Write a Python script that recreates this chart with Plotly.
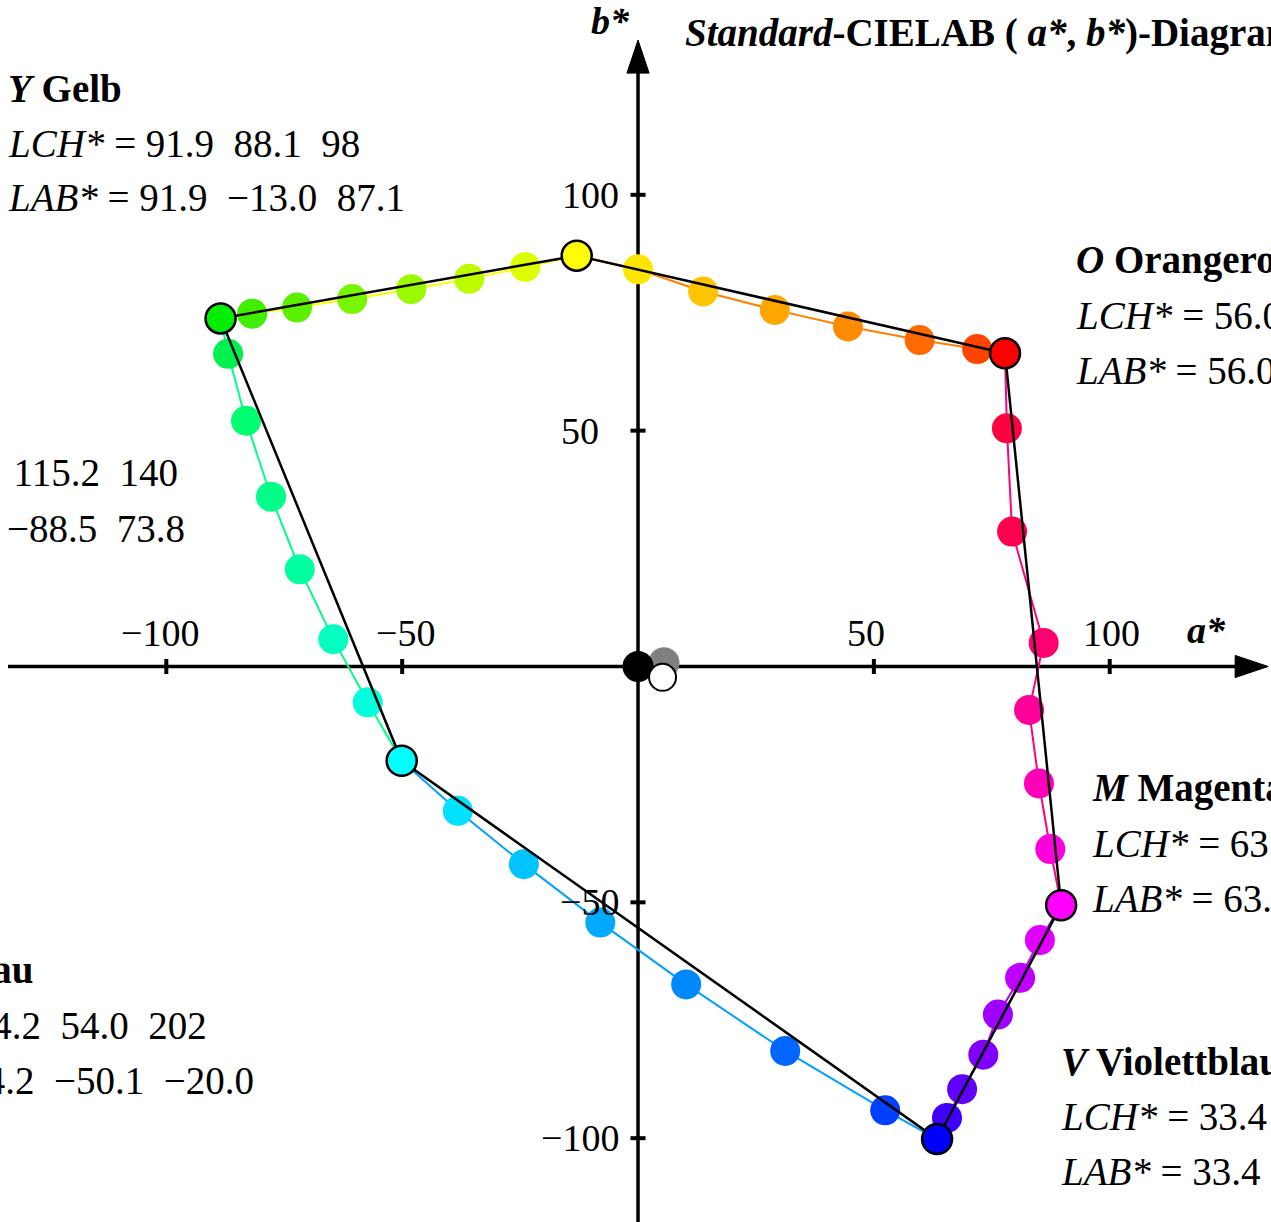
import plotly.graph_objects as go

# ---------------- data ----------------
# primaries (order around the hue circle)
prim_code = ["Y", "O", "M", "V", "C", "G"]
prim_name = ["Gelb", "Orangerot", "Magentarot", "Violettblau", "Cyanblau", "Grün"]
prim_L = [91.9, 56.0, 63.0, 33.4, 74.2, 87.7]
prim_C = [88.1, 102.3, 103.2, 118.7, 54.0, 115.2]
prim_h = [98, 40, 330, 302, 202, 140]
prim_a = [-13.0, 77.8, 89.7, 63.4, -50.1, -88.5]
prim_b = [87.1, 66.4, -50.6, -100.2, -20.0, 73.8]
prim_color = ["#ffff00", "#ff0000", "#ff00ff", "#0000ff", "#00ffff", "#00ee00"]

# intermediate hue steps between neighbouring primaries
GY_a = [-81.8, -72.3, -60.6, -48.1, -35.8, -23.9]
GY_b = [74.8, 76.1, 77.9, 80.0, 82.2, 84.7]
GY_col = ["#40ee00", "#5cf000", "#78f500", "#9cfa00", "#bdfc00", "#ddff00"]

YO_a = [0.0, 13.8, 29.0, 44.5, 59.7, 71.9]
YO_b = [84.2, 79.5, 75.6, 72.1, 69.2, 67.3]
YO_col = ["#ffe600", "#ffc400", "#ffa600", "#ff8c00", "#ff6a00", "#ff4400"]

OM_a = [78.2, 79.3, 86.0, 82.9, 85.0, 87.4]
OM_b = [50.5, 28.6, 5.0, -9.2, -24.8, -38.7]
OM_col = ["#ff0040", "#ff0050", "#ff0070", "#ff0098", "#ff00b8", "#ff00dd"]

MV_a = [85.2, 81.0, 76.3, 73.2, 68.7, 65.5]
MV_b = [-58.0, -66.0, -73.8, -82.3, -89.6, -95.7]
MV_col = ["#e000ff", "#c000ff", "#a000ff", "#8000ff", "#6000ff", "#4000ff"]

VC_a = [52.4, 31.2, 10.2, -8.0, -24.2, -38.2]
VC_b = [-94.1, -81.5, -67.4, -54.3, -41.9, -30.6]
VC_col = ["#0040ff", "#0066ff", "#0088ff", "#00aaff", "#00c4ff", "#00e0ff"]

CG_a = [-57.3, -64.6, -71.7, -77.8, -83.1, -86.9]
CG_b = [-7.6, 5.8, 20.6, 36.0, 52.1, 66.3]
CG_col = ["#00ffdd", "#00ffc0", "#00ffa0", "#00ff88", "#00ff70", "#00f050"]

# achromatic samples: grey, black N, white W
achro_a = [5.5, 0.0, 5.2]
achro_b = [0.8, 0.0, -2.3]
achro_fill = ["#808080", "#000000", "#ffffff"]

tick_vals = [-100, -50, 50, 100]
tick_text = ["\u2212100", "\u221250", "50", "100"]

# ---------------- figure ----------------
W, H = 1271, 1222
xr = [-135.26, 134.19]
yr = [-117.77, 141.30]

fig = go.Figure()

segments = [
    (GY_a, GY_b, GY_col, 5, 0, "#ffff00"),
    (YO_a, YO_b, YO_col, 0, 1, "#ff8000"),
    (OM_a, OM_b, OM_col, 1, 2, "#ff0080"),
    (MV_a, MV_b, MV_col, 2, 3, "#b000ff"),
    (VC_a, VC_b, VC_col, 3, 4, "#00a0ff"),
    (CG_a, CG_b, CG_col, 4, 5, "#00ff80"),
]
for sa, sb, sc, i0, i1, lc in segments:
    xa = [prim_a[i0]] + sa + [prim_a[i1]]
    yb = [prim_b[i0]] + sb + [prim_b[i1]]
    cols = [prim_color[i0]] + sc + [prim_color[i1]]
    fig.add_trace(go.Scatter(x=xa, y=yb, mode="lines+markers",
                             line=dict(color=lc, width=2),
                             marker=dict(size=30, color=cols, opacity=1, line=dict(width=0)),
                             hoverinfo="skip", showlegend=False))

# black hexagon through the primaries
fig.add_trace(go.Scatter(x=prim_a + [prim_a[0]], y=prim_b + [prim_b[0]], mode="lines",
                         line=dict(color="black", width=2.5),
                         hoverinfo="skip", showlegend=False))
# primaries
fig.add_trace(go.Scatter(x=prim_a, y=prim_b, mode="markers",
                         marker=dict(size=30, color=prim_color, opacity=1,
                                     line=dict(color="black", width=2.5)),
                         hoverinfo="skip", showlegend=False))
# achromatic
fig.add_trace(go.Scatter(x=achro_a, y=achro_b, mode="markers",
                         marker=dict(size=[31, 31, 27], color=achro_fill, opacity=1,
                                     line=dict(color=["#808080", "#000000", "#000000"], width=[0, 0, 2])),
                         hoverinfo="skip", showlegend=False))

# ---------------- axes as shapes ----------------
arrow_len = 7.0
arrow_half = 2.35
x_tip = xr[1] - 0.6
y_tip = yr[1] - 8.5
x_left = xr[0] + 1.7
shapes = [
    dict(type="line", x0=x_left, x1=x_tip - arrow_len + 0.5, y0=0, y1=0,
         line=dict(color="black", width=3.5), layer="below"),
    dict(type="line", x0=0, x1=0, y0=yr[0], y1=y_tip - arrow_len + 0.5,
         line=dict(color="black", width=3.5), layer="below"),
    dict(type="path", path=f"M {x_tip-arrow_len} {-arrow_half} L {x_tip} 0 L {x_tip-arrow_len} {arrow_half} Z",
         fillcolor="black", line=dict(color="black", width=1), layer="below"),
    dict(type="path", path=f"M {-arrow_half} {y_tip-arrow_len} L 0 {y_tip} L {arrow_half} {y_tip-arrow_len} Z",
         fillcolor="black", line=dict(color="black", width=1), layer="below"),
]
tick_half = 1.6
for v in tick_vals:
    shapes.append(dict(type="line", x0=v, x1=v, y0=-tick_half, y1=tick_half,
                       line=dict(color="black", width=4), layer="below"))
    shapes.append(dict(type="line", y0=v, y1=v, x0=-tick_half, x1=tick_half,
                       line=dict(color="black", width=4), layer="below"))

FONT = "Liberation Serif"
FS_TICK = 38
FS = 39
# label nudges (pixels) to follow the reference typesetting
x_lab_shift = [-6, 3, -8, 2]
y_lab_shift = [-17, -17, -37, -17]
annotations = []
for v, t, xs, ys in zip(tick_vals, tick_text, x_lab_shift, y_lab_shift):
    annotations.append(dict(x=v, y=0, xref="x", yref="y", text=t, showarrow=False,
                            xanchor="center", yanchor="middle", yshift=33, xshift=xs,
                            font=dict(family=FONT, size=FS_TICK, color="black")))
    annotations.append(dict(x=0, y=v, xref="x", yref="y", text=t, showarrow=False,
                            xanchor="right", yanchor="middle", xshift=ys,
                            font=dict(family=FONT, size=FS_TICK, color="black")))

annotations.append(dict(x=120.6, y=7.7, xref="x", yref="y", text="<b><i>a*</i></b>",
                        showarrow=False, font=dict(family=FONT, size=FS_TICK, color="black")))
annotations.append(dict(x=-5.9, y=136.8, xref="x", yref="y", text="<b><i>b*</i></b>",
                        showarrow=False, font=dict(family=FONT, size=FS_TICK, color="black")))


def P(xp, yp):
    return xp / W, 1 - yp / H


tx, ty = P(683, 33)
annotations.append(dict(x=tx, y=ty, xref="paper", yref="paper", xanchor="left", yanchor="middle",
                        text="<b><i>Standard</i>-CIELAB ( <i>a*</i>, <i>b*</i>)-Diagramm</b>",
                        showarrow=False, font=dict(family=FONT, size=FS, color="black")))

# text block placement (pixel left edge, header row centre)
block_pos = {"Y": (6, 88), "O": (1074, 260), "M": (1090, 788),
             "V": (1059, 1061), "C": (-167, 970), "G": (-214, 418)}
row_gap = 55
NB = "\u00a0"


def fmt(v, d=1):
    s = f"{v:.{d}f}"
    return s.replace("-", "\u2212")


for i, code in enumerate(prim_code):
    lx, ly = block_pos[code]
    lines = [
        f"<b><i>{code}</i> {prim_name[i]}</b>",
        f"<i>LCH*</i> = {fmt(prim_L[i])}{NB}{NB}{fmt(prim_C[i])}{NB}{NB}{prim_h[i]}",
        f"<i>LAB*</i> = {fmt(prim_L[i])}{NB}{NB}{fmt(prim_a[i])}{NB}{NB}{fmt(prim_b[i])}",
    ]
    for k, txt in enumerate(lines):
        px_, py_ = P(lx, ly + k * row_gap)
        annotations.append(dict(x=px_, y=py_, xref="paper", yref="paper",
                                xanchor="left", yanchor="middle", text=txt, showarrow=False,
                                font=dict(family=FONT, size=FS, color="black")))

fig.update_layout(
    width=W, height=H,
    margin=dict(l=0, r=0, t=0, b=0),
    paper_bgcolor="white", plot_bgcolor="white",
    xaxis=dict(range=xr, visible=False, fixedrange=True),
    yaxis=dict(range=yr, visible=False, fixedrange=True),
    shapes=shapes, annotations=annotations,
    showlegend=False,
)

fig.write_html("out.html", config={"displayModeBar": False},
               post_script="document.body.style.margin='0';document.body.style.overflow='hidden';")
